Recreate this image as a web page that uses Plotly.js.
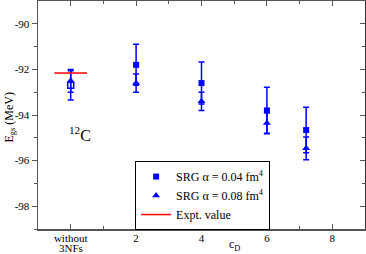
<!DOCTYPE html>
<html><head><meta charset="utf-8">
<script src="https://cdn.plot.ly/plotly-3.0.1.min.js"></script>
<style>html,body{margin:0;padding:0;background:#fff}</style>
</head><body>
<div id="chart" style="width:366px;height:254px"></div>
<script>
// cD values (0 = without 3NFs)
const cD = [0, 2, 4, 6, 7.2];
// SRG alpha = 0.04 fm^4
const e004 = [-92.70, -91.80, -92.60, -93.80, -94.66];
const err004 = [0.64, 0.90, 0.92, 1.02, 1.00];
// SRG alpha = 0.08 fm^4
const e008 = [-92.50, -92.60, -93.40, -94.35, -95.46];
const err008 = [0.50, 0.40, 0.40, 0.45, 0.50];
// experimental value
const exptX = [-0.5, 0.5];
const exptY = [-92.16, -92.16];
const tickVals = [0, 2, 4, 6, 8];
const tickText = ['without', '2', '4', '6', '8'];

const BLUE = '#0000ff';
const FAM = 'Liberation Serif';
const font = {family: FAM, size: 11, color: '#000'};

const traces = [
  {x: cD.slice(1), y: e004.slice(1), type: 'scatter', mode: 'markers', name: 'SRG α = 0.04 fm<sup>4</sup>',
   marker: {symbol: 'square', size: 6, color: BLUE},
   error_y: {type: 'data', array: err004.slice(1), color: BLUE, thickness: 1.5, width: 3}},
  {x: cD.slice(0, 1), y: e004.slice(0, 1), type: 'scatter', mode: 'markers', showlegend: false,
   marker: {symbol: 'square-open', size: 6, color: BLUE, line: {width: 1.5}},
   error_y: {type: 'data', array: err004.slice(0, 1), color: BLUE, thickness: 1.5, width: 3}},
  {x: cD, y: e008, type: 'scatter', mode: 'markers', name: 'SRG α = 0.08 fm<sup>4</sup>',
   marker: {symbol: 'triangle-up', size: 7, color: BLUE},
   error_y: {type: 'data', array: err008, color: BLUE, thickness: 1.5, width: 3}},
  {x: exptX, y: exptY, type: 'scatter', mode: 'lines', name: 'Expt. value',
   line: {color: '#ff0000', width: 1.5}},
  {x: [], y: [], yaxis: 'y2', type: 'scatter', showlegend: false, hoverinfo: 'skip'}
];

const axisLine = '#555';
const layout = {
  width: 366, height: 254,
  margin: {l: 38, r: 1, t: 1, b: 25},
  paper_bgcolor: '#fff', plot_bgcolor: '#fff',
  font: font,
  showlegend: true,
  legend: {x: 0.297, y: 0.298, xanchor: 'left', yanchor: 'top',
    bgcolor: '#fff', bordercolor: '#000', borderwidth: 1,
    font: {family: FAM, size: 12, color: '#000'}, tracegroupgap: 0, itemwidth: 30},
  xaxis: {range: [-1, 9], tickvals: tickVals, ticktext: tickText,
    ticks: 'inside', ticklen: 5, tickcolor: axisLine, tickwidth: 1,
    mirror: 'ticks', showline: true, linecolor: axisLine, linewidth: 1.5,
    showgrid: false, zeroline: false, tickfont: font, ticklabelstandoff: -2,
    minor: {tickvals: [1, 3, 5, 7], ticks: 'inside', ticklen: 3, tickcolor: axisLine, showgrid: false}},
  yaxis: {range: [-99, -89], tickvals: [-98, -96, -94, -92, -90], ticktext: ['-98', '-96', '-94', '-92', '-90'],
    ticks: 'outside', ticklen: 5, tickcolor: axisLine, tickwidth: 1,
    showline: true, linecolor: axisLine, linewidth: 1.5,
    showgrid: false, zeroline: false, tickfont: font,
    minor: {tickvals: [-99, -97, -95, -93, -91], ticks: 'outside', ticklen: 3, tickcolor: axisLine, showgrid: false}},
  yaxis2: {range: [-99, -89], overlaying: 'y', side: 'right', anchor: 'x',
    tickvals: [-98, -96, -94, -92, -90], showticklabels: false,
    ticks: 'inside', ticklen: 5, tickcolor: axisLine, tickwidth: 1,
    showline: true, linecolor: '#333', linewidth: 1.5, showgrid: false, zeroline: false,
    minor: {tickvals: [-99, -97, -95, -93, -91], ticks: 'inside', ticklen: 3, tickcolor: axisLine, showgrid: false}},
  annotations: [
    {xref: 'x', yref: 'paper', x: 0, y: 0, yshift: -19, yanchor: 'middle', xanchor: 'center',
     text: '3NFs', showarrow: false, font: font},
    {xref: 'x', yref: 'y', x: 0.29, y: -94.84, text: '<sup>12</sup>C', showarrow: false,
     font: {family: FAM, size: 16, color: '#000'}},
    {xref: 'paper', yref: 'paper', x: -0.085, y: 0.49, xanchor: 'center', yanchor: 'middle', textangle: -90, showarrow: false,
     text: 'E<sub>gs</sub> (MeV)', font: {family: FAM, size: 12, color: '#000'}},
    {xref: 'x', yref: 'paper', x: 5, y: 0, yshift: -16, yanchor: 'middle', xanchor: 'center', showarrow: false,
     text: 'c<sub>D</sub>', font: {family: FAM, size: 12, color: '#000'}}
  ]
};

Plotly.newPlot('chart', traces, layout, {staticPlot: true, displayModeBar: false});
</script>
</body></html>
